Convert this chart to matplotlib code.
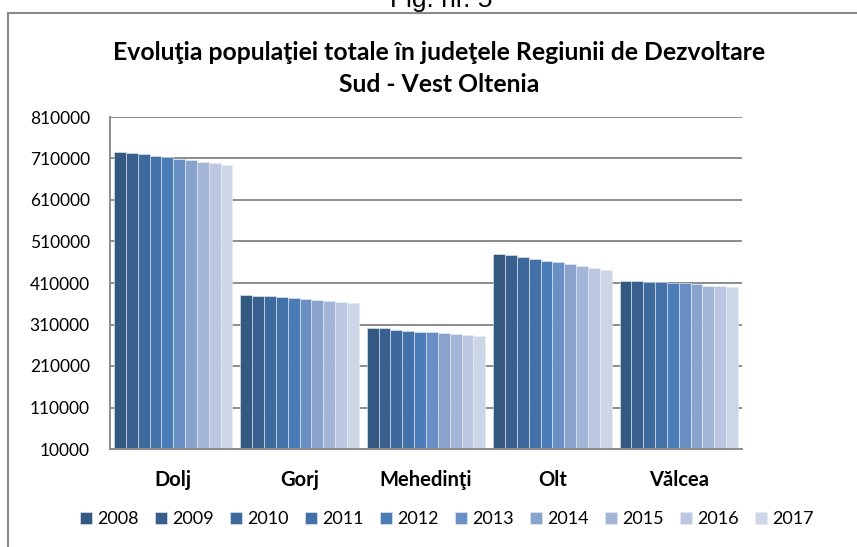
import numpy as np
import matplotlib
matplotlib.use("Agg")
from matplotlib import pyplot as plt
from matplotlib.patches import Rectangle

plt.rcParams['font.family'] = ['Lato', 'DejaVu Sans']

## judete si ani
judete = ['Dolj', 'Gorj', 'Mehedinţi', 'Olt', 'Vălcea']
ani = ['2008', '2009', '2010', '2011', '2012', '2013', '2014', '2015', '2016', '2017']

## populatia pe judete, 2008..2017
dolj = [726000, 723000, 720600, 716500, 713400, 709300, 705200, 701300, 698000, 694800]
gorj = [380200, 379500, 377800, 375400, 373000, 371300, 368100, 365700, 363300, 360900]
mehedinti = [302700, 301000, 297900, 295500, 293100, 291400, 288900, 286500, 285100, 281700]
olt = [480300, 476900, 473100, 468200, 463400, 460000, 455200, 451300, 447200, 441700]
valcea = [414800, 414100, 412400, 411700, 410700, 409300, 406900, 403500, 402000, 399600]

yticks = [10000, 110000, 210000, 310000, 410000, 510000, 610000, 710000, 810000]

culori = ['#335881', '#385F8E', '#3D699C', '#4372A8', '#4A7DB8',
          '#6990C4', '#89A3CC', '#A3B6D8', '#BCC8E1', '#CDD6E7']

valori = np.array([dolj, gorj, mehedinti, olt, valcea])   ## randuri = judete

fig = plt.figure(figsize=(8.57, 5.47), dpi=100)
ax = fig.add_axes([110/857., 1-449/547., 632/857., 332/547.])

x = np.arange(len(judete))
latGrup = 0.937
w = latGrup/len(ani)
for i in range(len(ani)):
    ax.bar(x - latGrup/2 + w*(i+0.5), valori[:, i] - yticks[0], w, bottom=yticks[0],
           color=culori[i], edgecolor='#e8edf4', linewidth=0.4, label=ani[i], zorder=2)

ax.set_xlim(-0.5, len(judete)-0.5)
ax.set_ylim(yticks[0], yticks[-1])
ax.set_yticks(yticks)
ax.set_yticklabels([str(v) for v in yticks], fontsize=12.5)
ax.set_xticks(x)
ax.set_xticklabels(judete, fontsize=14.5, fontweight='bold')
ax.tick_params(axis='y', length=0, pad=14.5)
ax.tick_params(axis='x', length=0, pad=15)
ax.grid(axis='y', color='#8c8c8c', linewidth=1.4, zorder=1)
ax.set_axisbelow(True)
for s in ['top', 'right']:
    ax.spines[s].set_visible(False)
for s in ['left', 'bottom']:
    ax.spines[s].set_color('#8c8c8c')
    ax.spines[s].set_linewidth(1.4)

ax.legend(loc='center', bbox_to_anchor=(447/857., 1-519/547.), bbox_transform=fig.transFigure,
          ncol=10, frameon=False, fontsize=13, handlelength=0.67, handleheight=0.67,
          handletextpad=0.28, columnspacing=0.9, borderaxespad=0, borderpad=0)

fig.text(439/857., 1-52/547., 'Evoluţia populaţiei totale în judeţele Regiunii de Dezvoltare',
         ha='center', va='center', fontsize=17.8, fontweight='bold')
fig.text(439/857., 1-84/547., 'Sud - Vest Oltenia', ha='center', va='center',
         fontsize=17.8, fontweight='bold')

## cadrul si textul taiat de sus
fig.text(441/857., 1-7/547., 'Fig. nr. 5', ha='center', va='baseline', fontsize=19,
         family=['Liberation Sans', 'DejaVu Sans'])
fig.patches.append(Rectangle((8/857., -0.05), 1.2, 1-13/547.+0.05, transform=fig.transFigure,
                             fill=False, edgecolor='#8a8a8a', linewidth=1.5))

fig.savefig('out.png', dpi=100)
